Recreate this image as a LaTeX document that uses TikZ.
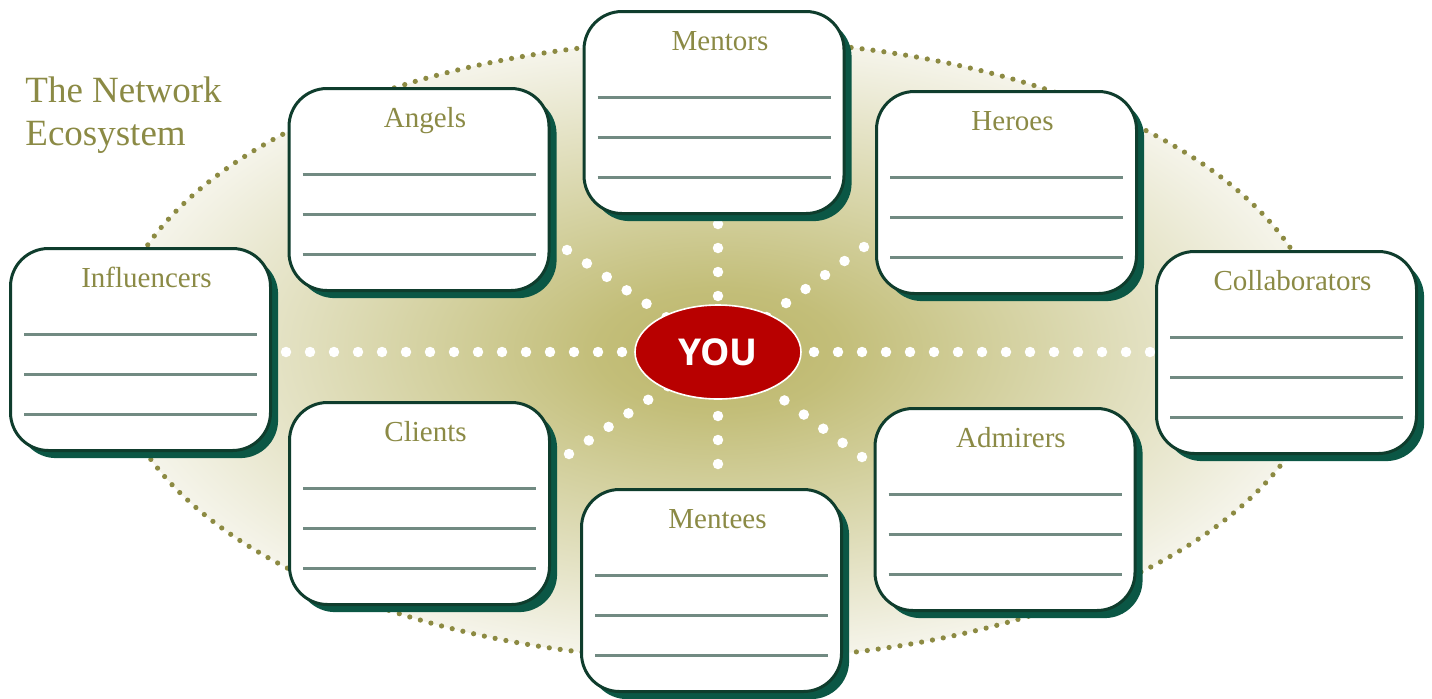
\documentclass[tikz,border=0pt]{standalone}
\usepackage{fontspec}
\setmainfont{Liberation Serif}
\newfontfamily\youfont{Open Sans}
\usetikzlibrary{shapes.geometric, shadows, calc}

\definecolor{olivetext}{HTML}{8B8A45}
\definecolor{olivedot}{HTML}{8C8A42}
\definecolor{cardline}{HTML}{0F3D2D}
\definecolor{cardshadow}{HTML}{0B5745}
\definecolor{blankgrey}{HTML}{718A82}
\definecolor{youred}{HTML}{B80000}
\definecolor{ecocentre}{HTML}{BCB66A}
\definecolor{ecoinner}{HTML}{C3BE79}
\definecolor{ecomid}{HTML}{D3D09E}
\definecolor{ecoouter}{HTML}{E2E0C0}
\definecolor{ecoedge}{HTML}{F5F4EA}

\pgfdeclareradialshading{ecoshade}{\pgfpointorigin}{color(0bp)=(ecocentre); color(5bp)=(ecoinner); color(11.5bp)=(ecomid); color(17.5bp)=(ecoouter); color(25bp)=(ecoedge); color(50bp)=(ecoedge)}

\begin{document}
\begin{tikzpicture}[x=0.5pt, y=-0.5pt,
    card/.style={draw=cardline, line width=1.5pt, fill=white, rounded corners=19pt,
        minimum width=130pt, minimum height=101pt, inner sep=0pt,
        drop shadow={shadow xshift=3.8pt, shadow yshift=-3.8pt, fill=cardshadow, opacity=1}},
    cardtitle/.style={text=olivetext, font=\fontsize{14.5}{17}\selectfont, anchor=base, inner sep=0pt},
    blankline/.style={draw=blankgrey, line width=1.5pt},
    ray/.style={draw=white, line width=5.25pt, line cap=round, dash pattern=on 0pt off 12pt},
    ecosystem/.style={ellipse, minimum width=606pt, minimum height=310pt, inner sep=0pt,
        shading=ecoshade, draw=olivedot, line width=2.6pt, line cap=round, dash pattern=on 0pt off 5.5pt},
    yoububble/.style={ellipse, fill=youred, draw=white, line width=0.8pt, inner sep=0pt,
        minimum width=83pt, minimum height=47pt, text=white, font=\youfont\bfseries\fontsize{18.5}{18.5}\selectfont},
    ecotitle/.style={text=olivetext, font=\fontsize{18.5}{21.5}\selectfont, align=left, anchor=base west, inner sep=0pt}]
    \useasboundingbox (0,0) rectangle (1432,698);

    % background of the ecosystem
    \node[ecosystem] (eco) at (718,350) {};

    % dotted rays out of the centre
    \coordinate (hub) at (718,352);
    \coordinate (rayW) at (286,352);
    \coordinate (rayE) at (1150,352);
    \coordinate (rayN) at (718,224);
    \coordinate (rayS) at (718,464);
    \coordinate (rayNW) at (567,250);
    \coordinate (rayNE) at (864,247);
    \coordinate (raySW) at (569,454);
    \coordinate (raySE) at (862,457);
    \foreach \r in {rayW, rayE, rayN, rayS, rayNW, rayNE, raySW, raySE}
        \draw[ray] (\r) -- (hub);

    \node[yoububble] (you) at (hub) {YOU};

    % the cards
    \node[card] (mentors) at (714,112.5) {};
    \node[card] (angels) at (419,189.5) {};
    \node[card] (heroes) at (1006.5,192.5) {};
    \node[card] (influencers) at (140.5,349.5) {};
    \node[card] (collaborators) at (1286.5,352.5) {};
    \node[card] (clients) at (419.5,503.5) {};
    \node[card] (admirers) at (1005,509.5) {};
    \node[card] (mentees) at (711.5,590.5) {};

    \node[cardtitle] (mentors-t) at ($(mentors.north)+(6,40.5)$) {Mentors};
    \node[cardtitle] (angels-t) at ($(angels.north)+(6,40.5)$) {Angels};
    \node[cardtitle] (heroes-t) at ($(heroes.north)+(6,40.5)$) {Heroes};
    \node[cardtitle] (influencers-t) at ($(influencers.north)+(6,40.5)$) {Influencers};
    \node[cardtitle] (collaborators-t) at ($(collaborators.north)+(6,40.5)$) {Collaborators};
    \node[cardtitle] (clients-t) at ($(clients.north)+(6,40.5)$) {Clients};
    \node[cardtitle] (admirers-t) at ($(admirers.north)+(6,40.5)$) {Admirers};
    \node[cardtitle] (mentees-t) at ($(mentees.north)+(6,40.5)$) {Mentees};

    % blank lines to write on
    \foreach \b in {mentors, angels, heroes, influencers, collaborators, clients, admirers, mentees}
        \foreach \dy in {87, 127, 167}
            \draw[blankline] ($(\b.north west)+(15,\dy)$) -- ($(\b.north east)+(-15,\dy)$);

    \node[ecotitle] (title) at (25,145) {The Network\\Ecosystem};
\end{tikzpicture}
\end{document}
